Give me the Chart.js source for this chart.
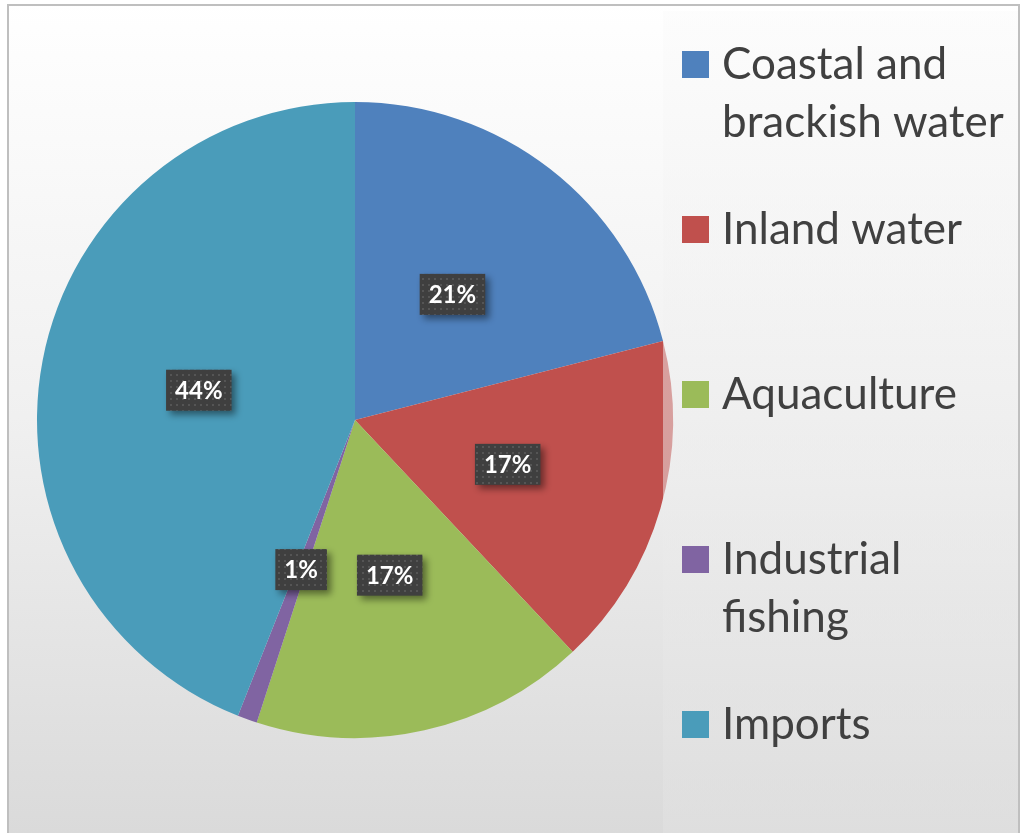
<!DOCTYPE html>
<html>
<head>
<meta charset="utf-8">
<script src="https://cdn.jsdelivr.net/npm/chart.js@4/dist/chart.umd.min.js"></script>
<style>
  html, body { margin: 0; padding: 0; background: #fff; }
  #wrap { width: 1021px; height: 833px; }
</style>
</head>
<body>
<div id="wrap"><canvas id="pie" width="1021" height="833"></canvas></div>
<script>
const categories = ["Coastal and brackish water", "Inland water", "Aquaculture", "Industrial fishing", "Imports"];
const legendLines = [["Coastal and", "brackish water"], ["Inland water"], ["Aquaculture"], ["Industrial", "fishing"], ["Imports"]];
const shares = [21, 17, 17, 1, 44];
const colors = ["#4F81BD", "#C0504D", "#9BBB59", "#8064A2", "#4A9CBA"];

// dotted dark fill for the value boxes
function dotPattern(ctx) {
  const c = document.createElement("canvas");
  c.width = 6; c.height = 6;
  const g = c.getContext("2d");
  g.fillStyle = "#3f3f3f";
  g.fillRect(0, 0, 6, 6);
  g.fillStyle = "#555555";
  g.fillRect(2, 2, 2, 2);
  return ctx.createPattern(c, "repeat");
}

const backdrop = {
  id: "backdrop",
  beforeDraw(chart) {
    const { ctx, width, height } = chart;
    ctx.save();
    const bg = ctx.createLinearGradient(0, 0, 0, height);
    bg.addColorStop(0, "#ffffff");
    bg.addColorStop(0.5, "#f0f0f0");
    bg.addColorStop(1, "#dadada");
    ctx.fillStyle = bg;
    ctx.fillRect(8, 5, width - 10, height);
    ctx.strokeStyle = "#bfbfbf";
    ctx.lineWidth = 2;
    ctx.strokeRect(8, 5, width - 10, height + 10);
    ctx.restore();
  }
};

const legendPanel = {
  id: "legendPanel",
  afterDatasetsDraw(chart) {
    const { ctx, height } = chart;
    ctx.save();
    const pg = ctx.createLinearGradient(0, 11, 0, height);
    pg.addColorStop(0, "rgba(250,250,250,0.5)");
    pg.addColorStop(1, "rgba(226,226,226,0.5)");
    ctx.fillStyle = pg;
    ctx.fillRect(663, 11, 355, height - 11);

    ctx.font = "44px Lato, 'Open Sans', sans-serif";
    ctx.textBaseline = "alphabetic";
    legendLines.forEach((lines, i) => {
      const top = 51 + 165 * i;
      ctx.fillStyle = colors[i];
      ctx.fillRect(682, top, 27, 27);
      ctx.fillStyle = "#404040";
      lines.forEach((t, j) => ctx.fillText(t, 722, top + 28 + 58 * j));
    });
    ctx.restore();
  }
};

const valueBoxes = {
  id: "valueBoxes",
  afterDraw(chart) {
    const { ctx } = chart;
    const meta = chart.getDatasetMeta(0);
    const fill = dotPattern(ctx);
    ctx.save();
    ctx.font = "bold 24px Lato, 'Open Sans', sans-serif";
    ctx.textAlign = "center";
    ctx.textBaseline = "middle";
    meta.data.forEach((arc, i) => {
      const p = arc.getCenterPoint();
      const txt = shares[i] + "%";
      const w = ctx.measureText(txt).width + 18;
      const h = 41;
      ctx.save();
      ctx.shadowColor = "rgba(0,0,0,0.45)";
      ctx.shadowBlur = 7;
      ctx.shadowOffsetX = 4;
      ctx.shadowOffsetY = 4;
      ctx.fillStyle = fill;
      ctx.fillRect(p.x - w / 2, p.y - h / 2, w, h);
      ctx.restore();
      ctx.fillStyle = "#ffffff";
      ctx.fillText(txt, p.x, p.y + 1);
    });
    ctx.restore();
  }
};

new Chart(document.getElementById("pie"), {
  type: "pie",
  data: {
    labels: categories,
    datasets: [{
      data: shares,
      backgroundColor: colors,
      borderWidth: 0
    }]
  },
  options: {
    responsive: false,
    animation: false,
    events: [],
    layout: { padding: { left: 37, right: 348, top: 102, bottom: 95 } },
    plugins: {
      legend: { display: false },
      tooltip: { enabled: false }
    }
  },
  plugins: [backdrop, legendPanel, valueBoxes]
});
</script>
</body>
</html>
